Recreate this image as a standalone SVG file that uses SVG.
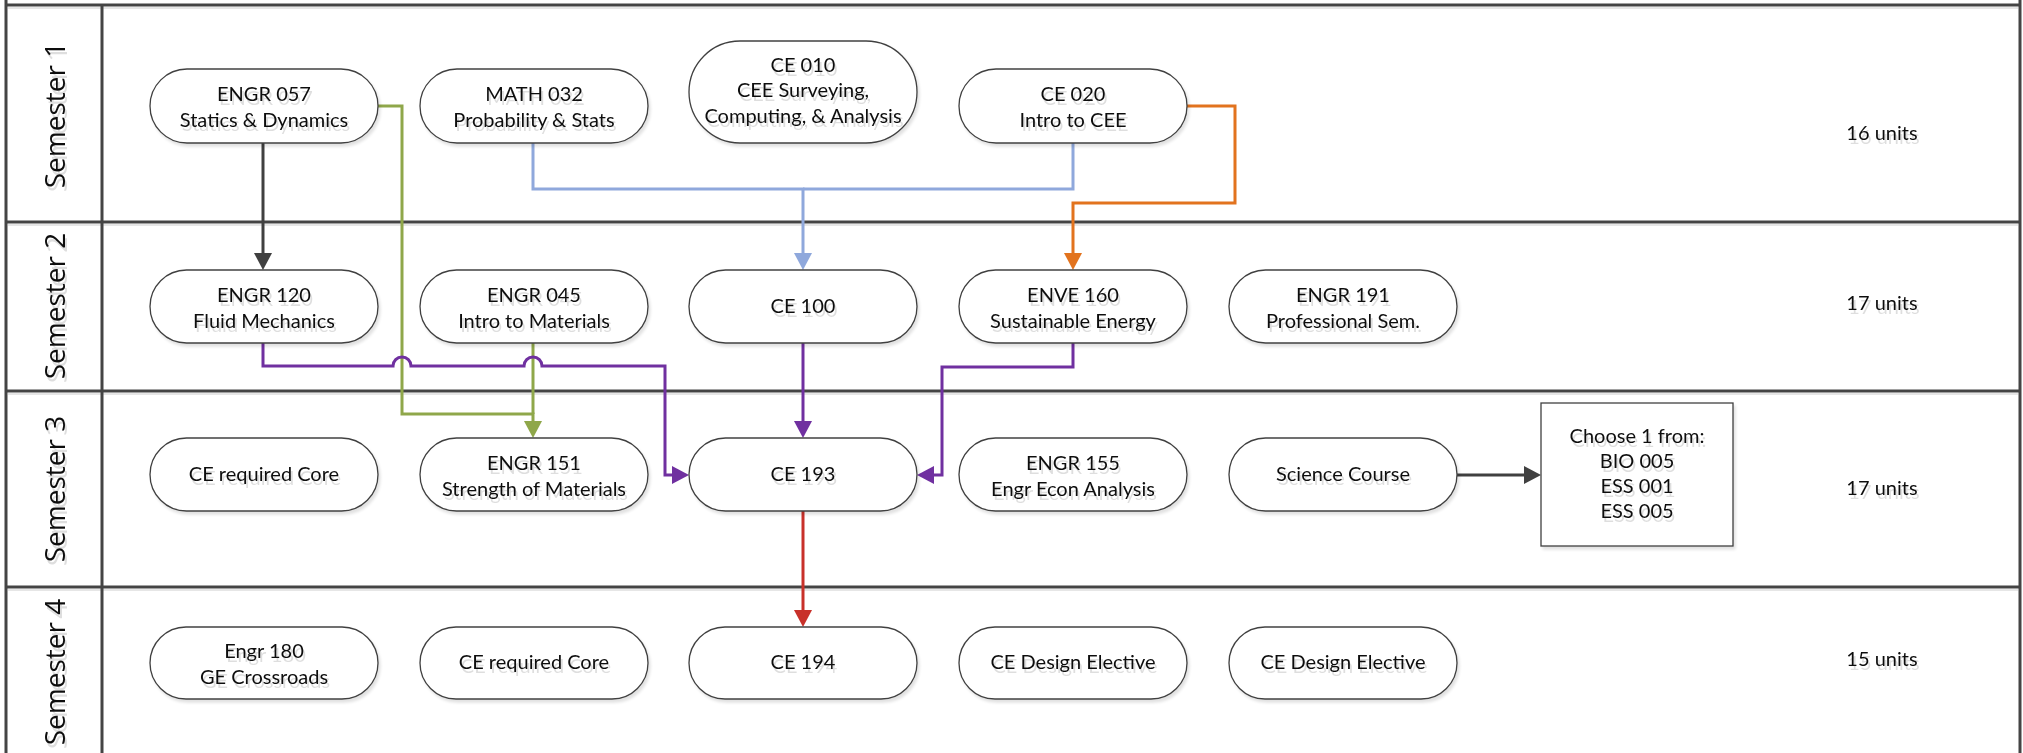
<svg xmlns="http://www.w3.org/2000/svg" width="2023" height="753" viewBox="0 0 2023 753">
<style>
.lane{stroke:#444;stroke-width:3;fill:none}
.laneSh{stroke:#e6e6e6;stroke-width:2;fill:none}
.lbl{font-family:"Open Sans","Liberation Sans",sans-serif;font-size:28px;fill:#111;text-anchor:middle}
.node rect{fill:#fff;stroke:#404040;stroke-width:1.3}
.t{font-family:Lato,"Liberation Sans",Arial,sans-serif;font-size:20px;fill:#111;text-anchor:middle}
.units{font-family:Lato,"Liberation Sans",Arial,sans-serif;font-size:20px;fill:#111;text-anchor:middle}
.c{fill:none;stroke-width:3}
</style>
<defs>
<filter id="sh" x="-10%" y="-10%" width="130%" height="140%">
<feOffset in="SourceAlpha" dx="2" dy="3" result="o"/>
<feGaussianBlur in="o" stdDeviation="1.5" result="b"/>
<feComponentTransfer in="b" result="g"><feFuncA type="linear" slope="0.12"/></feComponentTransfer>
<feMerge><feMergeNode in="g"/><feMergeNode in="SourceGraphic"/></feMerge>
</filter>
<filter id="ts" x="-10%" y="-20%" width="130%" height="160%">
<feOffset in="SourceAlpha" dx="2" dy="4" result="o"/>
<feComponentTransfer in="o" result="g"><feFuncA type="linear" slope="0.13"/></feComponentTransfer>
<feMerge><feMergeNode in="g"/><feMergeNode in="SourceGraphic"/></feMerge>
</filter>
<marker id="aK" markerUnits="userSpaceOnUse" markerWidth="18" markerHeight="18" refX="7" refY="9" orient="auto" overflow="visible"><path d="M0,0 L17,9 L0,18 Z" fill="#404040"/></marker>
<marker id="aG" markerUnits="userSpaceOnUse" markerWidth="18" markerHeight="18" refX="7" refY="9" orient="auto" overflow="visible"><path d="M0,0 L17,9 L0,18 Z" fill="#8FA74A"/></marker>
<marker id="aB" markerUnits="userSpaceOnUse" markerWidth="18" markerHeight="18" refX="7" refY="9" orient="auto" overflow="visible"><path d="M0,0 L17,9 L0,18 Z" fill="#8FA8DC"/></marker>
<marker id="aO" markerUnits="userSpaceOnUse" markerWidth="18" markerHeight="18" refX="7" refY="9" orient="auto" overflow="visible"><path d="M0,0 L17,9 L0,18 Z" fill="#E2731E"/></marker>
<marker id="aP" markerUnits="userSpaceOnUse" markerWidth="18" markerHeight="18" refX="7" refY="9" orient="auto" overflow="visible"><path d="M0,0 L17,9 L0,18 Z" fill="#7030A0"/></marker>
<marker id="aR" markerUnits="userSpaceOnUse" markerWidth="18" markerHeight="18" refX="7" refY="9" orient="auto" overflow="visible"><path d="M0,0 L17,9 L0,18 Z" fill="#C8312A"/></marker>
</defs>
<rect x="0" y="0" width="2023" height="753" fill="#fff"/>
<g id="lanes">
<path class="laneSh" d="M8,8 H2018 M8,225 H2018 M8,394 H2018 M8,590 H2018"/>
<path class="lane" d="M6,0 V753 M102,5 V753 M2020,0 V753 M6,5 H2020 M6,222 H2020 M6,391 H2020 M6,587 H2020"/>
<g filter="url(#ts)">
<text class="lbl" transform="translate(65,115) rotate(-90)">Semester 1</text>
<text class="lbl" transform="translate(65,306) rotate(-90)">Semester 2</text>
<text class="lbl" transform="translate(65,489) rotate(-90)">Semester 3</text>
<text class="lbl" transform="translate(65,672) rotate(-90)">Semester 4</text>
</g>
<g filter="url(#ts)">
<text class="units" x="1882" y="140">16 units</text>
<text class="units" x="1882" y="310">17 units</text>
<text class="units" x="1882" y="495">17 units</text>
<text class="units" x="1882" y="666">15 units</text>
</g>
</g>
<g id="connectors">
<path class="c" stroke="#404040" d="M263,143 V260" marker-end="url(#aK)"/>
<path class="c" stroke="#8FA8DC" d="M533,143 V189 H803 V260" marker-end="url(#aB)"/>
<path class="c" stroke="#8FA8DC" d="M1073,143 V189 H803"/>
<path class="c" stroke="#E2731E" d="M1187,106 H1235 V203 H1073 V260" marker-end="url(#aO)"/>
<path class="c" stroke="#8FA74A" d="M378,106 H402 V414 H533 V428" marker-end="url(#aG)"/>
<path class="c" stroke="#8FA74A" d="M533,343 V414"/>
<path class="c" stroke="#7030A0" d="M263,343 V366 H393 A9,9 0 0 1 411,366 H524 A9,9 0 0 1 542,366 H665 V475 H679" marker-end="url(#aP)"/>
<path class="c" stroke="#7030A0" d="M803,343 V428" marker-end="url(#aP)"/>
<path class="c" stroke="#7030A0" d="M1073,343 V367 H942 V475 H927" marker-end="url(#aP)"/>
<path class="c" stroke="#C8312A" d="M803,511 V617" marker-end="url(#aR)"/>
<path class="c" stroke="#404040" d="M1457,475 H1531" marker-end="url(#aK)"/>
</g>
<g id="n-engr057" class="node"><rect x="150" y="69" width="228" height="74" rx="37" filter="url(#sh)"/><g filter="url(#ts)"><text class="t" x="264" y="101">ENGR 057</text><text class="t" x="264" y="127">Statics &amp; Dynamics</text></g></g>
<g id="n-math032" class="node"><rect x="420" y="69" width="228" height="74" rx="37" filter="url(#sh)"/><g filter="url(#ts)"><text class="t" x="534" y="101">MATH 032</text><text class="t" x="534" y="127">Probability &amp; Stats</text></g></g>
<g id="n-ce010" class="node"><rect x="689" y="41" width="228" height="102" rx="51" filter="url(#sh)"/><g filter="url(#ts)"><text class="t" x="803" y="72">CE 010</text><text class="t" x="803" y="97">CEE Surveying,</text><text class="t" x="803" y="123">Computing, &amp; Analysis</text></g></g>
<g id="n-ce020" class="node"><rect x="959" y="69" width="228" height="74" rx="37" filter="url(#sh)"/><g filter="url(#ts)"><text class="t" x="1073" y="101">CE 020</text><text class="t" x="1073" y="127">Intro to CEE</text></g></g>
<g id="n-engr120" class="node"><rect x="150" y="270" width="228" height="73" rx="36.5" filter="url(#sh)"/><g filter="url(#ts)"><text class="t" x="264" y="302">ENGR 120</text><text class="t" x="264" y="328">Fluid Mechanics</text></g></g>
<g id="n-engr045" class="node"><rect x="420" y="270" width="228" height="73" rx="36.5" filter="url(#sh)"/><g filter="url(#ts)"><text class="t" x="534" y="302">ENGR 045</text><text class="t" x="534" y="328">Intro to Materials</text></g></g>
<g id="n-ce100" class="node"><rect x="689" y="270" width="228" height="73" rx="36.5" filter="url(#sh)"/><g filter="url(#ts)"><text class="t" x="803" y="313">CE 100</text></g></g>
<g id="n-enve160" class="node"><rect x="959" y="270" width="228" height="73" rx="36.5" filter="url(#sh)"/><g filter="url(#ts)"><text class="t" x="1073" y="302">ENVE 160</text><text class="t" x="1073" y="328">Sustainable Energy</text></g></g>
<g id="n-engr191" class="node"><rect x="1229" y="270" width="228" height="73" rx="36.5" filter="url(#sh)"/><g filter="url(#ts)"><text class="t" x="1343" y="302">ENGR 191</text><text class="t" x="1343" y="328">Professional Sem.</text></g></g>
<g id="n-core3" class="node"><rect x="150" y="438" width="228" height="73" rx="36.5" filter="url(#sh)"/><g filter="url(#ts)"><text class="t" x="264" y="481">CE required Core</text></g></g>
<g id="n-engr151" class="node"><rect x="420" y="438" width="228" height="73" rx="36.5" filter="url(#sh)"/><g filter="url(#ts)"><text class="t" x="534" y="470">ENGR 151</text><text class="t" x="534" y="496">Strength of Materials</text></g></g>
<g id="n-ce193" class="node"><rect x="689" y="438" width="228" height="73" rx="36.5" filter="url(#sh)"/><g filter="url(#ts)"><text class="t" x="803" y="481">CE 193</text></g></g>
<g id="n-engr155" class="node"><rect x="959" y="438" width="228" height="73" rx="36.5" filter="url(#sh)"/><g filter="url(#ts)"><text class="t" x="1073" y="470">ENGR 155</text><text class="t" x="1073" y="496">Engr Econ Analysis</text></g></g>
<g id="n-science" class="node"><rect x="1229" y="438" width="228" height="73" rx="36.5" filter="url(#sh)"/><g filter="url(#ts)"><text class="t" x="1343" y="481">Science Course</text></g></g>
<g id="n-choose" class="node"><rect x="1541" y="403" width="192" height="143" rx="0" filter="url(#sh)"/><g filter="url(#ts)"><text class="t" x="1637" y="443">Choose 1 from:</text><text class="t" x="1637" y="468">BIO 005</text><text class="t" x="1637" y="493">ESS 001</text><text class="t" x="1637" y="518">ESS 005</text></g></g>
<g id="n-engr180" class="node"><rect x="150" y="627" width="228" height="72" rx="36" filter="url(#sh)"/><g filter="url(#ts)"><text class="t" x="264" y="658">Engr 180</text><text class="t" x="264" y="684">GE Crossroads</text></g></g>
<g id="n-core4" class="node"><rect x="420" y="627" width="228" height="72" rx="36" filter="url(#sh)"/><g filter="url(#ts)"><text class="t" x="534" y="669">CE required Core</text></g></g>
<g id="n-ce194" class="node"><rect x="689" y="627" width="228" height="72" rx="36" filter="url(#sh)"/><g filter="url(#ts)"><text class="t" x="803" y="669">CE 194</text></g></g>
<g id="n-elec1" class="node"><rect x="959" y="627" width="228" height="72" rx="36" filter="url(#sh)"/><g filter="url(#ts)"><text class="t" x="1073" y="669">CE Design Elective</text></g></g>
<g id="n-elec2" class="node"><rect x="1229" y="627" width="228" height="72" rx="36" filter="url(#sh)"/><g filter="url(#ts)"><text class="t" x="1343" y="669">CE Design Elective</text></g></g>
</svg>
